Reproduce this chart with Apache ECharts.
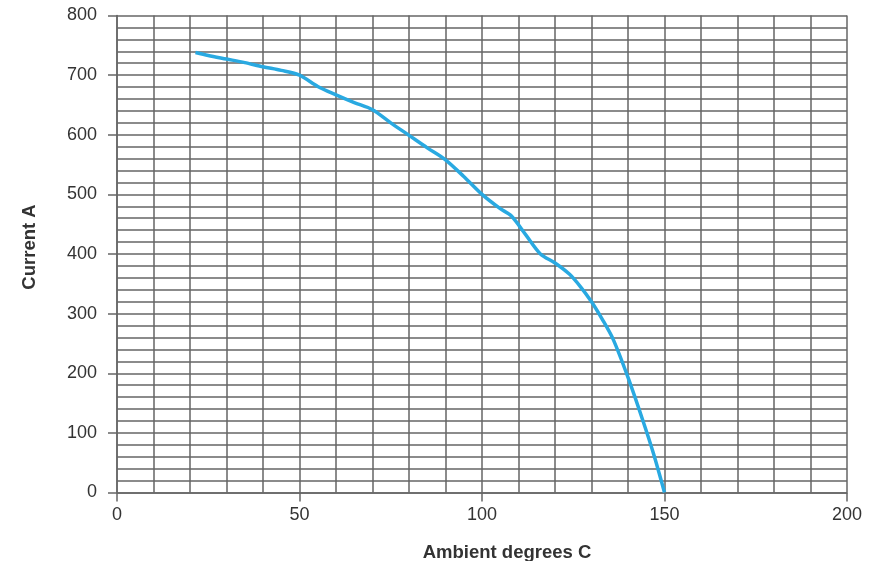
<!DOCTYPE html>
<html>
<head>
<meta charset="utf-8">
<script src="https://cdn.jsdelivr.net/npm/echarts@6/dist/echarts.min.js"></script>
<style>
  html, body { margin: 0; padding: 0; background: #fff; }
  #chart { width: 881px; height: 561px; }
</style>
</head>
<body>
<div id="chart"></div>
<script>
// Derating curve
const ambientTemps = [21.5, 25, 30, 35, 40, 45, 50, 55, 60, 65, 70, 75, 80, 85, 90, 95, 100, 105, 108, 112, 116, 120, 124, 127, 130, 133, 136, 140, 144, 147, 150]
const currents = [738, 733, 727, 721, 714, 708, 700, 681, 667, 654, 642, 620, 599, 578, 558, 530, 500, 476, 464, 432, 400, 385, 366, 345, 320, 290, 256, 193, 122, 65, 0]

const xTicks = [0, 50, 100, 150, 200]
const yTicks = [0, 100, 200, 300, 400, 500, 600, 700, 800]

const font = 'Liberation Sans, Arial, sans-serif'
const gridColor = '#666'
const lineStyle = { color: gridColor, width: 1.5 }

const chart = echarts.init(document.getElementById('chart'))

chart.setOption({
  animation: false,
  backgroundColor: '#fff',
  grid: { left: 117, right: 34, top: 15.5, bottom: 68.5, outerBoundsMode: 'none', containLabel: false },
  xAxis: {
    type: 'value',
    min: xTicks[0],
    max: xTicks[xTicks.length - 1],
    interval: 50,
    name: 'Ambient degrees C',
    nameLocation: 'middle',
    nameGap: 51,
    nameTextStyle: {
      fontFamily: font,
      fontSize: 18.5,
      fontWeight: 'bold',
      color: '#333',
      padding: [0, 0, 0, 50],
    },
    axisLine: { show: true, lineStyle },
    axisTick: { show: true, length: 9, lineStyle },
    axisLabel: { margin: 14, fontFamily: font, fontSize: 18, color: '#333' },
    splitLine: { show: true, lineStyle },
    minorTick: { show: false, splitNumber: 5 },
    minorSplitLine: { show: true, lineStyle },
  },
  yAxis: {
    type: 'value',
    min: yTicks[0],
    max: yTicks[yTicks.length - 1],
    interval: 100,
    name: 'Current A',
    nameLocation: 'middle',
    nameGap: 78,
    nameTextStyle: {
      fontFamily: font,
      fontSize: 18.5,
      fontWeight: 'bold',
      color: '#333',
      padding: [0, 0, 0, 14],
    },
    axisLine: { show: true, lineStyle },
    axisTick: { show: true, length: 9, lineStyle },
    axisLabel: { margin: 20, fontFamily: font, fontSize: 18, color: '#333' },
    splitLine: { show: true, lineStyle },
    minorTick: { show: false, splitNumber: 5 },
    minorSplitLine: { show: true, lineStyle },
  },
  series: [
    {
      type: 'line',
      data: ambientTemps.map((t, i) => [t, currents[i]]),
      smooth: 0.3,
      showSymbol: false,
      lineStyle: { color: '#29a9e1', width: 3.5 },
    },
  ],
})
</script>
</body>
</html>
